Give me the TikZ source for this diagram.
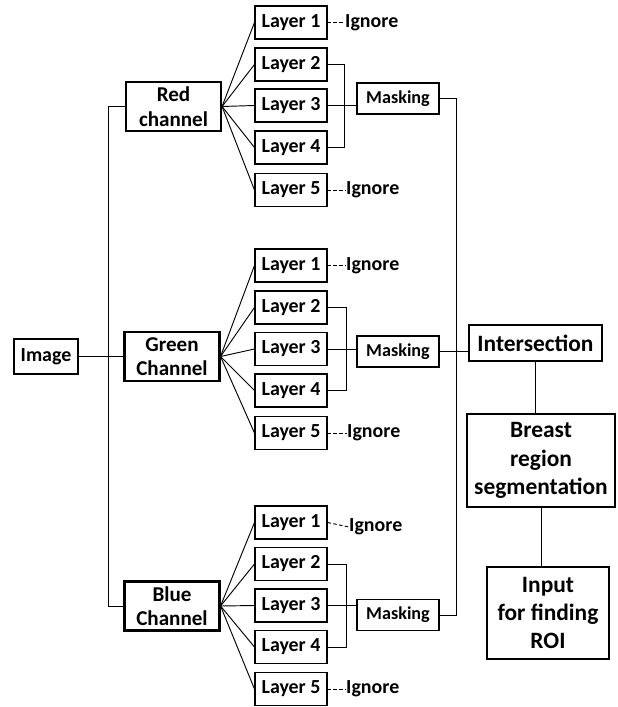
\documentclass[tikz,border=0pt]{standalone}
\usepackage{fontspec}
\setmainfont{Carlito}
\begin{document}
\begin{tikzpicture}[x=0.03cm,y=-0.03cm,
  every node/.style={font=\bfseries},
  box/.style={draw, line width=0.9pt, inner sep=0pt, align=center},
  layerbox/.style={box, minimum width=2.16cm, minimum height=0.99cm, font=\bfseries\fontsize{17pt}{20pt}\selectfont},
  maskbox/.style={box, minimum width=2.46cm, minimum height=0.93cm, font=\bfseries\fontsize{15.5pt}{18pt}\selectfont},
  chanbox/.style={box, line width=1.8pt, minimum width=2.85cm, minimum height=1.47cm, font=\bfseries\fontsize{18pt}{21pt}\selectfont},
  bigbox/.style={box, font=\bfseries\fontsize{20pt}{24pt}\selectfont},
  ign/.style={anchor=west, inner sep=0pt, font=\bfseries\fontsize{17pt}{20pt}\selectfont},
  conn/.style={line width=0.8pt},
  dconn/.style={line width=0.8pt, dash pattern=on 3pt off 2pt}]
\useasboundingbox (0,0) rectangle (617,707);

% Image
\node[box, minimum width=1.92cm, minimum height=1.05cm, font=\bfseries\fontsize{17pt}{20pt}\selectfont] (img) at (46,356.5) {Image};

% Channels
\node[chanbox] (red) at (173.5,106.5) {Red\\channel};
\node[chanbox] (grn) at (172,356.5) {Green\\Channel};
\node[chanbox] (blu) at (172,606) {Blue\\Channel};

% Layers
\foreach \i/\y in {1/22.5,2/64.5,3/105.5,4/147.5,5/190}
  \node[layerbox] (r\i) at (291,\y) {Layer \i};
\foreach \i/\y in {1/265.5,2/307.5,3/349,4/390.5,5/433}
  \node[layerbox] (g\i) at (291,\y) {Layer \i};
\foreach \i/\y in {1/522.5,2/564,3/605.5,4/647,5/689}
  \node[layerbox] (b\i) at (291,\y) {Layer \i};

% Ignore labels
\node[ign] (ir1) at (345,22.5) {Ignore};
\node[ign] (ir5) at (346,190) {Ignore};
\node[ign] (ig1) at (346,265.5) {Ignore};
\node[ign] (ig5) at (347,433) {Ignore};
\node[ign] (ib1) at (349,527) {Ignore};
\node[ign] (ib5) at (346,689) {Ignore};

% Masking
\node[maskbox] (mr) at (398,98.5) {Masking};
\node[maskbox] (mg) at (398,351.5) {Masking};
\node[maskbox] (mb) at (398,615) {Masking};

% Right column
\node[bigbox, minimum width=3.99cm, minimum height=1.08cm] (inter) at (535.5,343) {Intersection};
\node[bigbox, minimum width=4.44cm, minimum height=2.79cm] (breast) at (541,460.5) {Breast\\region\\segmentation};
\node[bigbox, minimum width=3.66cm, minimum height=2.76cm] (input) at (548,613) {Input\\for finding\\ROI};

% Helper coordinates
\coordinate (lv) at (108,106.5);
\coordinate (vtop) at (456,98.5);
\coordinate (bkr) at (344,0);
\coordinate (bkg) at (346,0);
\coordinate (bkb) at (346,0);

% Image to channels
\draw[conn] (img.east) -- (grn.west);
\draw[conn] (red.west) -- (red.west -| lv) |- (blu.west);

% Fans
\foreach \i in {1,...,5} {
  \draw[conn] (red.east) -- (r\i.west);
  \draw[conn] (grn.east) -- (g\i.west);
  \draw[conn] (blu.east) -- (b\i.west);
}

% Ignore dashes
\draw[dconn] (r1.east) -- (ir1.west);
\draw[dconn] (r5.east) -- (ir5.west);
\draw[dconn] (g1.east) -- (ig1.west);
\draw[dconn] (g5.east) -- (ig5.west);
\draw[dconn] (b1.east) -- (ib1.west);
\draw[dconn] (b5.east) -- (ib5.west);

% Brackets and masking
\draw[conn] (r2.east) -- (r2.east -| bkr) |- (r4.east);
\draw[conn] (r3.east) -- (r3.east -| mr.west);
\draw[conn] (g2.east) -- (g2.east -| bkg) |- (g4.east);
\draw[conn] (g3.east) -- (g3.east -| mg.west);
\draw[conn] (b2.east) -- (b2.east -| bkb) |- (b4.east);
\draw[conn] (b3.east) -- (b3.east -| mb.west);

% Masking outputs
\draw[conn] (mr.east) -- (vtop) |- (mb.east);
\draw[conn] (mg.east) -- (mg.east -| inter.west);

% Right chain
\draw[conn] (inter.south) -- (inter.south |- breast.north);
\draw[conn] (breast.south) -- (breast.south |- input.north);
\end{tikzpicture}
\end{document}
